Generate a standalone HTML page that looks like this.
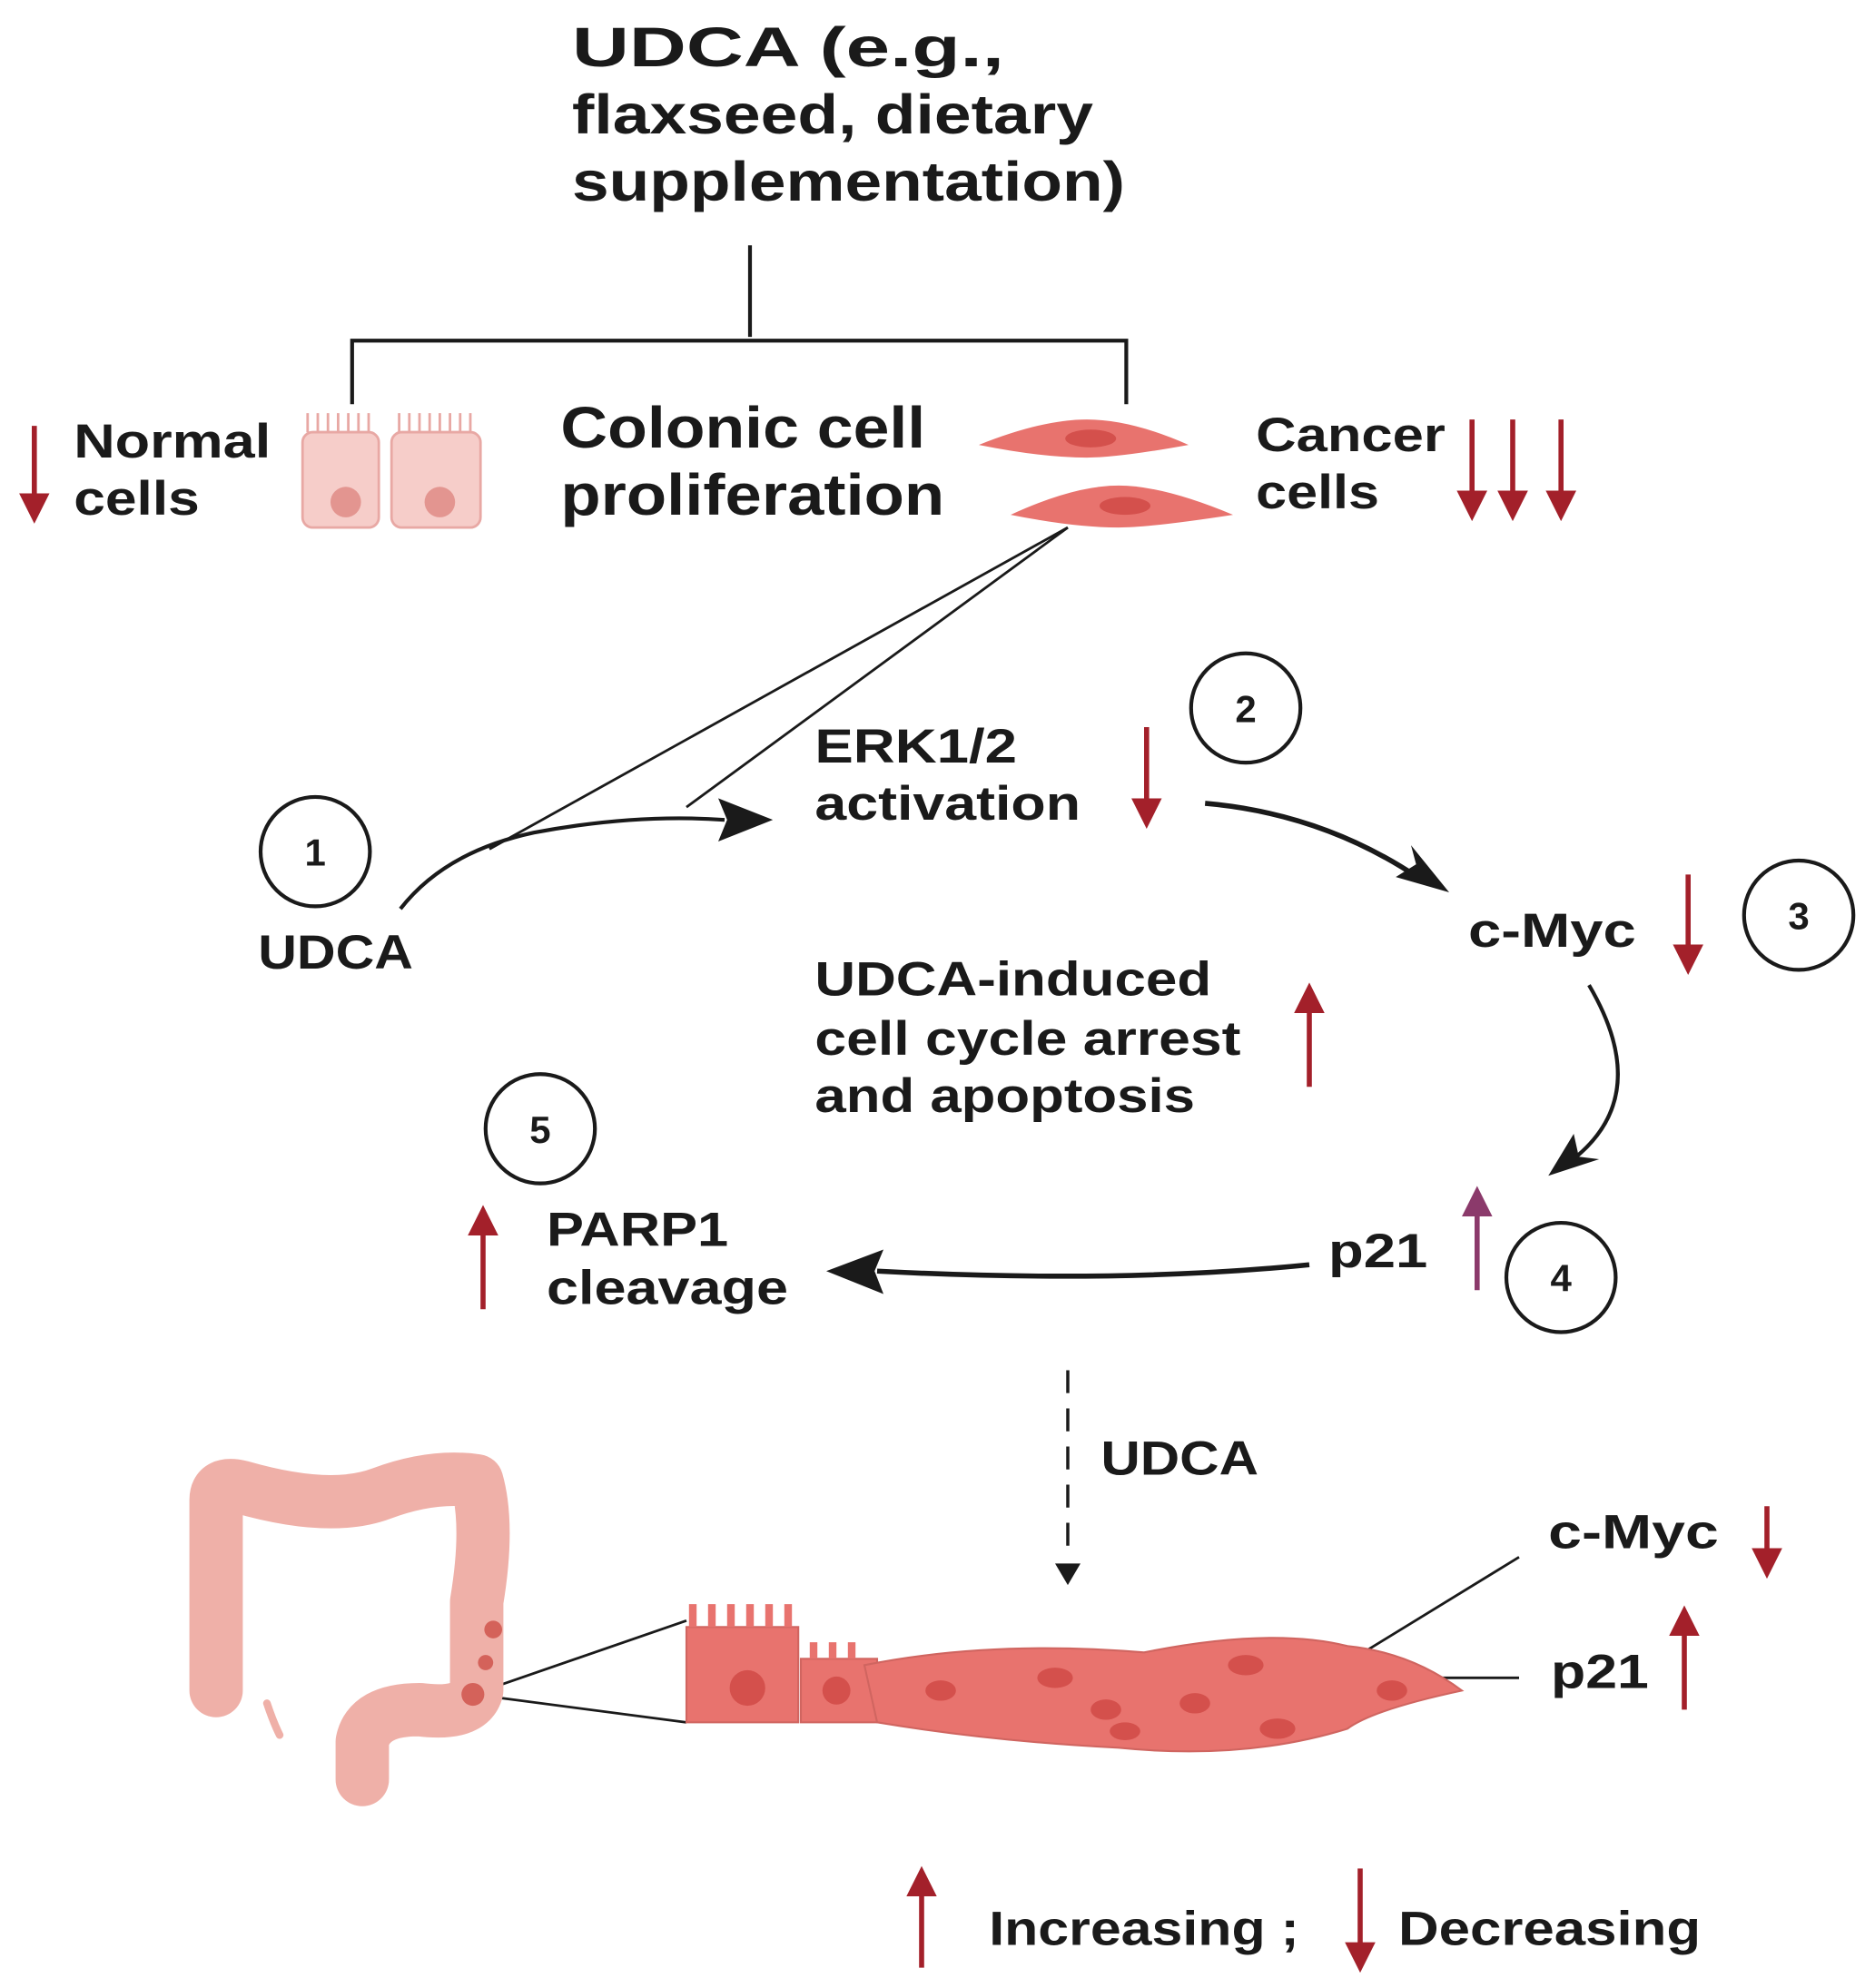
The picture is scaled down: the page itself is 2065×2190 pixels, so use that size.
<!DOCTYPE html>
<html><head><meta charset="utf-8"><style>html,body{margin:0;padding:0;background:#fff}svg{display:block}</style></head>
<body>
<svg width="2065" height="2190" viewBox="0 0 1475 1564" preserveAspectRatio="none" xmlns="http://www.w3.org/2000/svg" font-family="Liberation Sans, sans-serif" font-weight="bold" fill="#1a1a1a">
<defs>
<marker id="rd" markerWidth="6" markerHeight="6" refX="3" refY="3" orient="auto" markerUnits="strokeWidth"><path d="M0,0 L6,3 L0,6 z" fill="#a3202a"/></marker>
<marker id="pu" markerWidth="6" markerHeight="6" refX="3" refY="3" orient="auto" markerUnits="strokeWidth"><path d="M0,0 L6,3 L0,6 z" fill="#8b3a6b"/></marker>
</defs>
<g font-size="44" lengthAdjust="spacingAndGlyphs">
<text x="450" y="52" textLength="340" lengthAdjust="spacingAndGlyphs">UDCA (e.g.,</text>
<text x="450" y="105" textLength="410" lengthAdjust="spacingAndGlyphs">flaxseed, dietary</text>
<text x="450" y="158" textLength="435" lengthAdjust="spacingAndGlyphs">supplementation)</text>
</g>
<g stroke="#1a1a1a" stroke-width="3" fill="none">
<path d="M590 193 V265 M277 318 V268 H886 V318"/>
</g>
<g stroke="#a3202a" stroke-width="4" fill="none" marker-end="url(#rd)">
<line x1="27" y1="335" x2="27" y2="400"/>
<line x1="1158" y1="330" x2="1158" y2="398"/>
<line x1="1190" y1="330" x2="1190" y2="398"/>
<line x1="1228" y1="330" x2="1228" y2="398"/>
<line x1="902" y1="572" x2="902" y2="640"/>
<line x1="1328" y1="688" x2="1328" y2="755"/>
<line x1="1030" y1="855" x2="1030" y2="785"/>
<line x1="380" y1="1030" x2="380" y2="960"/>
<line x1="1390" y1="1185" x2="1390" y2="1230"/>
<line x1="1325" y1="1345" x2="1325" y2="1275"/>
<line x1="725" y1="1548" x2="725" y2="1480"/>
<line x1="1070" y1="1470" x2="1070" y2="1540"/>
</g>
<line x1="1162" y1="1015" x2="1162" y2="945" stroke="#8b3a6b" stroke-width="4" marker-end="url(#pu)"/>
<g font-size="38">
<text x="58" y="360" textLength="155" lengthAdjust="spacingAndGlyphs">Normal</text><text x="58" y="405" textLength="99" lengthAdjust="spacingAndGlyphs">cells</text>
<text x="988" y="355" textLength="149" lengthAdjust="spacingAndGlyphs">Cancer</text><text x="988" y="400" textLength="97" lengthAdjust="spacingAndGlyphs">cells</text>
<text x="641" y="600" textLength="159" lengthAdjust="spacingAndGlyphs">ERK1/2</text><text x="641" y="645" textLength="209" lengthAdjust="spacingAndGlyphs">activation</text>
<text x="203" y="762" textLength="122" lengthAdjust="spacingAndGlyphs">UDCA</text>
<text x="1155" y="745" textLength="132" lengthAdjust="spacingAndGlyphs">c-Myc</text>
<text x="641" y="783" textLength="312" lengthAdjust="spacingAndGlyphs">UDCA-induced</text><text x="641" y="830" textLength="335" lengthAdjust="spacingAndGlyphs">cell cycle arrest</text><text x="641" y="875" textLength="299" lengthAdjust="spacingAndGlyphs">and apoptosis</text>
<text x="430" y="980" textLength="143" lengthAdjust="spacingAndGlyphs">PARP1</text><text x="430" y="1026" textLength="190" lengthAdjust="spacingAndGlyphs">cleavage</text>
<text x="1045" y="997" textLength="78" lengthAdjust="spacingAndGlyphs">p21</text>
<text x="866" y="1160" textLength="124" lengthAdjust="spacingAndGlyphs">UDCA</text>
<text x="1218" y="1218" textLength="134" lengthAdjust="spacingAndGlyphs">c-Myc</text>
<text x="1220" y="1328" textLength="77" lengthAdjust="spacingAndGlyphs">p21</text>
<text x="778" y="1530" textLength="244" lengthAdjust="spacingAndGlyphs">Increasing ;</text>
<text x="1100" y="1530" textLength="238" lengthAdjust="spacingAndGlyphs">Decreasing</text>
</g>
<g font-size="46"><text x="441" y="352" textLength="287" lengthAdjust="spacingAndGlyphs">Colonic cell</text><text x="441" y="405" textLength="302" lengthAdjust="spacingAndGlyphs">proliferation</text></g>
<g stroke="#e8a8a4" stroke-width="2" fill="#f6cdc9">
<rect x="238" y="340" width="60" height="75" rx="8"/>
<rect x="308" y="340" width="70" height="75" rx="8"/>
<path d="M242 340 V325 M250 340 V325 M258 340 V325 M266 340 V325 M274 340 V325 M282 340 V325 M290 340 V325 M314 340 V325 M322 340 V325 M330 340 V325 M338 340 V325 M346 340 V325 M354 340 V325 M362 340 V325 M370 340 V325" fill="none"/>
</g>
<circle cx="272" cy="395" r="12" fill="#e39590"/><circle cx="346" cy="395" r="12" fill="#e39590"/>
<path d="M770 350 Q820 330 855 330 Q890 330 935 350 Q880 360 855 360 Q820 360 770 350z" fill="#e8736e"/>
<ellipse cx="858" cy="345" rx="20" ry="7" fill="#d4504c"/>
<path d="M795 405 Q845 382 880 382 Q915 382 970 405 Q905 415 880 415 Q845 415 795 405z" fill="#e8736e"/>
<ellipse cx="885" cy="398" rx="20" ry="7" fill="#d4504c"/>
<g stroke="#1a1a1a" stroke-width="2" fill="none">
<line x1="840" y1="415" x2="385" y2="668"/><line x1="840" y1="415" x2="540" y2="635"/>
<path d="M315 715 Q350 670 420 655 Q500 640 570 645" stroke-width="3"/>
<path d="M948 632 Q1040 640 1115 690" stroke-width="4"/>
<path d="M1250 775 Q1300 860 1240 910" stroke-width="3"/>
<path d="M1030 995 Q880 1010 690 1000" stroke-width="4"/>
<path d="M840 1078 V1225" stroke-dasharray="18 12" stroke-width="2.5"/>
<line x1="1195" y1="1225" x2="1040" y2="1320"/><line x1="1195" y1="1320" x2="1040" y2="1320"/>
<line x1="372" y1="1333" x2="540" y2="1275"/><line x1="372" y1="1333" x2="540" y2="1355"/>
</g>
<g fill="#1a1a1a">
<path d="M608 645 L565 628 L572 645 L565 662z"/>
<path d="M1140 702 L1098 690 L1114 680 L1110 665z"/>
<path d="M1218 925 L1238 892 L1242 910 L1258 912z"/>
<path d="M650 1000 L695 983 L688 1000 L695 1018z"/>
<path d="M840 1247 L830 1230 L850 1230z"/>
</g>
<g fill="none" stroke="#1a1a1a" stroke-width="3">
<circle cx="248" cy="670" r="43"/><circle cx="980" cy="557" r="43"/><circle cx="1415" cy="720" r="43"/>
<circle cx="1228" cy="1005" r="43"/><circle cx="425" cy="888" r="43"/>
</g>
<g font-size="30" text-anchor="middle">
<text x="248" y="681">1</text><text x="980" y="568">2</text><text x="1415" y="731">3</text><text x="1228" y="1016">4</text><text x="425" y="899">5</text>
</g>
<g fill="none" stroke="#efb0a8" stroke-linecap="round" stroke-linejoin="round">
<path d="M170 1330 V1180 Q170 1165 190 1170 Q260 1190 300 1175 Q340 1160 375 1165 Q385 1200 375 1260 V1330 Q370 1350 330 1345 Q290 1345 285 1370 V1400" stroke-width="42"/>
<path d="M210 1340 Q215 1355 220 1365" stroke-width="6"/>
</g>
<circle cx="388" cy="1282" r="7" fill="#d4625a"/><circle cx="382" cy="1308" r="6" fill="#d4625a"/><circle cx="372" cy="1333" r="9" fill="#d4625a"/>
<g fill="#e8736e" stroke="#d06560" stroke-width="1.5">
<rect x="540" y="1280" width="88" height="75"/>
<path d="M545 1280 V1262 M560 1280 V1262 M575 1280 V1262 M590 1280 V1262 M605 1280 V1262 M620 1280 V1262" stroke-width="6" stroke="#e8736e"/>
<rect x="630" y="1305" width="60" height="50"/>
<path d="M640 1305 V1292 M655 1305 V1292 M670 1305 V1292" stroke-width="6" stroke="#e8736e"/>
<path d="M680 1310 Q780 1290 900 1300 Q1000 1280 1060 1295 Q1110 1300 1150 1330 Q1080 1345 1060 1360 Q980 1385 880 1375 Q780 1370 690 1355z"/>
</g>
<g fill="#d4504c">
<circle cx="588" cy="1328" r="14"/><circle cx="658" cy="1330" r="11"/>
<ellipse cx="740" cy="1330" rx="12" ry="8"/><ellipse cx="830" cy="1320" rx="14" ry="8"/><ellipse cx="870" cy="1345" rx="12" ry="8"/>
<ellipse cx="940" cy="1340" rx="12" ry="8"/><ellipse cx="980" cy="1310" rx="14" ry="8"/><ellipse cx="1005" cy="1360" rx="14" ry="8"/>
<ellipse cx="885" cy="1362" rx="12" ry="7"/><ellipse cx="1095" cy="1330" rx="12" ry="8"/>
</g>
</svg>
</body></html>
